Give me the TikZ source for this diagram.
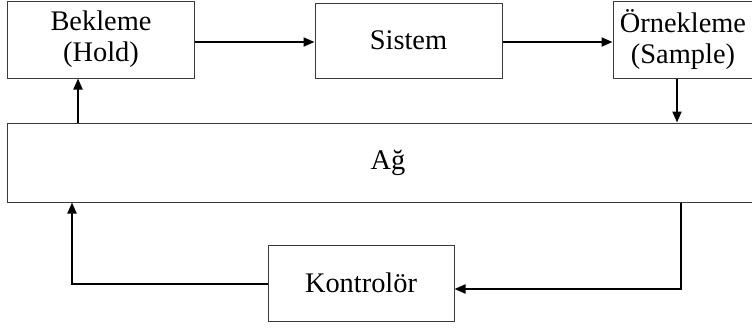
\documentclass[tikz,border=0pt]{standalone}
\usepackage{fontspec}
\setmainfont{Liberation Serif}
\usepackage{tikz}
\usetikzlibrary{arrows.meta}
\definecolor{BKEdge}{HTML}{3A3A3A}
\definecolor{BKLine}{HTML}{000000}
\tikzset{
  blok/.style={draw=BKEdge,line width=1bp,fill=white,inner sep=0pt,align=center,
    font=\fontsize{28.5}{31}\selectfont},
  ok/.style={BKLine,line width=2bp,-{Triangle[length=11bp,width=9bp]}},
  hat/.style={BKLine,line width=2bp}
}

\begin{document}
\begin{tikzpicture}[x=1bp,y=-1bp]
\path[use as bounding box] (0,0) rectangle (752,331);
\node[blok,minimum width=186bp,minimum height=77bp] (bek) at (101,39.5) {Bekleme\\(Hold)};
\node[blok,minimum width=187bp,minimum height=75bp] (sis) at (408.5,40.5) {Sistem};
\node[blok,minimum width=140bp,minimum height=77bp] (orn) at (683,39.5) {Örnekleme\\(Sample)};
\node[blok,minimum width=760bp,minimum height=79bp] (ag) at (388,162.5) {Ağ};
\node[blok,minimum width=186bp,minimum height=76bp] (kon) at (361,283) {Kontrolör};
\draw[ok] (bek.east |- 0,42) -- (sis.west |- 0,42);
\draw[ok] (sis.east |- 0,42) -- (orn.west |- 0,42);
\draw[ok] (orn.south -| 677,0) -- (ag.north -| 677,0);
\draw[ok] (ag.north -| 78,0) -- (bek.south -| 78,0);
\draw[ok] (ag.south -| 681,0) |- (kon.east |- 0,289);
\draw[ok] (kon.west |- 0,284) -| (ag.south -| 72,0);
\end{tikzpicture}
\end{document}
